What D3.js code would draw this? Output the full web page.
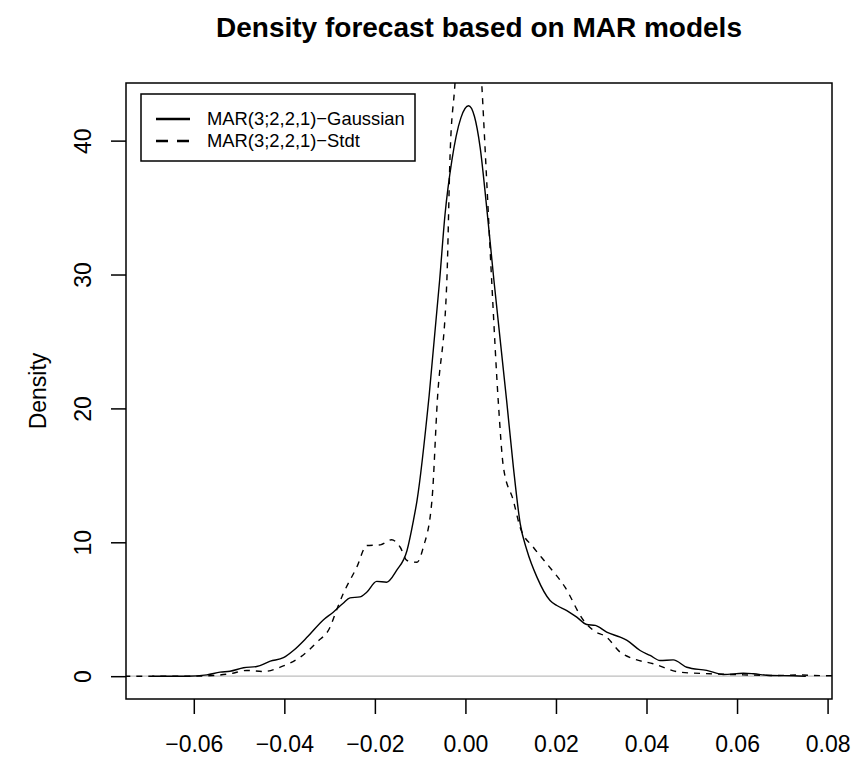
<!DOCTYPE html>
<html>
<head>
<meta charset="utf-8">
<script src="https://cdn.jsdelivr.net/npm/d3@7"></script>
<style>
  body { margin: 0; background: #fff; }
  svg { font-family: "Liberation Sans", Arial, Helvetica, sans-serif; }
</style>
</head>
<body>
<svg id="chart"></svg>
<script>
// density estimates
let gaussX = [-0.0692, -0.0615, -0.0571, -0.0542, -0.052, -0.049, -0.0461, -0.0431, -0.0402, -0.038,
  -0.035, -0.0314, -0.0292, -0.027, -0.0255, -0.0233, -0.0218, -0.0196, -0.0174, -0.0152,
  -0.0129, -0.0115, -0.0107, -0.008, -0.0057, -0.0045, -0.003, -0.001, 0.0007, 0.002,
  0.00325, 0.0047, 0.0063, 0.0091, 0.0106, 0.0121, 0.0136, 0.0158, 0.0187, 0.0202,
  0.0224, 0.0246, 0.0268, 0.0287, 0.0312, 0.0342, 0.0357, 0.0386, 0.0408, 0.043,
  0.0459, 0.0489, 0.0533, 0.057, 0.0614, 0.0636, 0.0673, 0.0725, 0.0752];
let gaussY = [0.0, 0.0, 0.1, 0.3, 0.37, 0.63, 0.72, 1.12, 1.38, 1.92,
  2.9, 4.2, 4.78, 5.45, 5.85, 5.92, 6.27, 7.08, 7.02, 7.9,
  9.39, 11.6, 13.1, 21.0, 29.55, 34.5, 38.5, 41.7, 42.6, 41.8,
  39.5, 35.0, 29.55, 20.6, 15.6, 11.4, 9.39, 7.4, 5.65, 5.28,
  4.9, 4.41, 3.86, 3.79, 3.29, 2.91, 2.67, 1.92, 1.55, 1.17,
  1.22, 0.67, 0.43, 0.13, 0.22, 0.18, 0.05, 0.03, 0.0];

let stdtX = [-0.078, -0.0615, -0.0557, -0.052, -0.0483, -0.0446, -0.0409, -0.0365, -0.0328, -0.0299,
  -0.0284, -0.027, -0.024, -0.0218, -0.0188, -0.0163, -0.0144, -0.0129, -0.0107, -0.0093,
  -0.0074, -0.0062, -0.0041, -0.0034, -0.0023, -0.001, 0.0007, 0.0022, 0.0036, 0.0047,
  0.0058, 0.0073, 0.0084, 0.0106, 0.0121, 0.015, 0.018, 0.022, 0.0261, 0.0283,
  0.0312, 0.0342, 0.0371, 0.0415, 0.0474, 0.054, 0.0614, 0.0688, 0.0739, 0.077, 0.083];
let stdtY = [0.0, 0.0, 0.05, 0.18, 0.43, 0.35, 0.67, 1.42, 2.54, 3.66,
  5.0, 6.15, 8.14, 9.76, 9.81, 10.19, 9.63, 8.64, 8.51, 9.63,
  13.1, 20.6, 29.55, 38.8, 44.3, 52, 56, 52, 44.3, 37,
  29.55, 20.3, 15.6, 13.1, 11.1, 9.63, 8.39, 6.65, 4.16, 3.41,
  2.91, 1.79, 1.3, 0.93, 0.3, 0.18, 0.1, 0.05, 0.1, 0.05, 0.03];

let xTicks = [-0.06, -0.04, -0.02, 0.00, 0.02, 0.04, 0.06, 0.08];
let yTicks = [0, 10, 20, 30, 40];
let legendLabels = ["MAR(3;2,2,1)\u2212Gaussian", "MAR(3;2,2,1)\u2212Stdt"];

let w = 856;
let h = 760;
let pLeft = 126, pRight = 832, pTop = 83, pBottom = 699;

let svg = d3.select('#chart').attr('width', w).attr('height', h);

// R style: pad the data range by 4% on each side
let pad4 = (a, b) => [a - 0.04 * (b - a), b + 0.04 * (b - a)];

let xSc = d3.scaleLinear()
            .domain(pad4(d3.min(gaussX), d3.max(gaussX)))
            .range([pLeft, pRight]);
let ySc = d3.scaleLinear()
            .domain(pad4(0, d3.max(gaussY)))
            .range([pBottom, pTop]);

svg.append('clipPath').attr('id', 'plotclip')
   .append('rect')
   .attr('x', pLeft).attr('y', pTop)
   .attr('width', pRight - pLeft).attr('height', pBottom - pTop);

// zero line
svg.append('line')
   .attr('x1', pLeft).attr('x2', pRight)
   .attr('y1', ySc(0)).attr('y2', ySc(0))
   .attr('stroke', '#bebebe')
   .attr('stroke-width', 1.3);

let line = d3.line()
             .x(d => xSc(d[0]))
             .y(d => ySc(d[1]))
             .curve(d3.curveMonotoneX);

let gauss = gaussX.map((v, i) => [v, gaussY[i]]);
let stdt = stdtX.map((v, i) => [v, stdtY[i]]);

let g = svg.append('g').attr('clip-path', 'url(#plotclip)');
g.append('path')
 .attr('d', line(gauss))
 .attr('fill', 'none')
 .attr('stroke', '#000')
 .attr('stroke-width', 1.4);
g.append('path')
 .attr('d', line(stdt))
 .attr('fill', 'none')
 .attr('stroke', '#000')
 .attr('stroke-width', 1.4)
 .attr('stroke-dasharray', '6,6');

// box
svg.append('rect')
   .attr('x', pLeft).attr('y', pTop)
   .attr('width', pRight - pLeft).attr('height', pBottom - pTop)
   .attr('fill', 'none')
   .attr('stroke', '#000')
   .attr('stroke-width', 1.5);

// axes
let xAxis = d3.axisBottom(xSc)
              .tickValues(xTicks)
              .tickSize(15)
              .tickFormat(d3.format('.2f'));
let xg = svg.append('g')
            .attr('transform', 'translate(0,' + pBottom + ')')
            .call(xAxis);
xg.select('.domain').remove();
xg.selectAll('line').attr('stroke-width', 1.5);
xg.selectAll('text')
  .attr('y', 53).attr('dy', 0)
  .attr('font-size', 23)
  .attr('font-family', '"Liberation Sans", Arial, sans-serif')
  .attr('fill', '#000');

let yAxis = d3.axisLeft(ySc)
              .tickValues(yTicks)
              .tickSize(15)
              .tickFormat(d3.format('d'));
let yg = svg.append('g')
            .attr('transform', 'translate(' + pLeft + ',0)')
            .call(yAxis);
yg.select('.domain').remove();
yg.selectAll('line').attr('stroke-width', 1.5);
yg.selectAll('text')
  .attr('transform', 'rotate(-90)')
  .attr('x', 0).attr('y', -35).attr('dy', 0)
  .attr('text-anchor', 'middle')
  .attr('font-size', 23)
  .attr('font-family', '"Liberation Sans", Arial, sans-serif')
  .attr('fill', '#000');

// labels
svg.append('text')
   .attr('x', (pLeft + pRight) / 2).attr('y', 37)
   .attr('text-anchor', 'middle')
   .attr('font-size', 28)
   .attr('font-weight', 'bold')
   .text('Density forecast based on MAR models');

svg.append('text')
   .attr('transform', 'translate(46,' + (pTop + pBottom) / 2 + ') rotate(-90)')
   .attr('text-anchor', 'middle')
   .attr('font-size', 23)
   .text('Density');

// legend
let lg = svg.append('g').attr('transform', 'translate(141,94)');
lg.append('rect')
  .attr('width', 274).attr('height', 67)
  .attr('fill', '#fff')
  .attr('stroke', '#000')
  .attr('stroke-width', 1.5);
let dashes = [null, '12,9'];
legendLabels.forEach((lab, i) => {
  let yy = 25 + i * 22;
  lg.append('line')
    .attr('x1', 15).attr('x2', 49)
    .attr('y1', yy).attr('y2', yy)
    .attr('stroke', '#000')
    .attr('stroke-width', 2.6)
    .attr('stroke-dasharray', dashes[i]);
  lg.append('text')
    .attr('x', 66).attr('y', yy)
    .attr('dy', '0.35em')
    .attr('font-size', 18.4)
    .text(lab);
});
</script>
</body>
</html>
